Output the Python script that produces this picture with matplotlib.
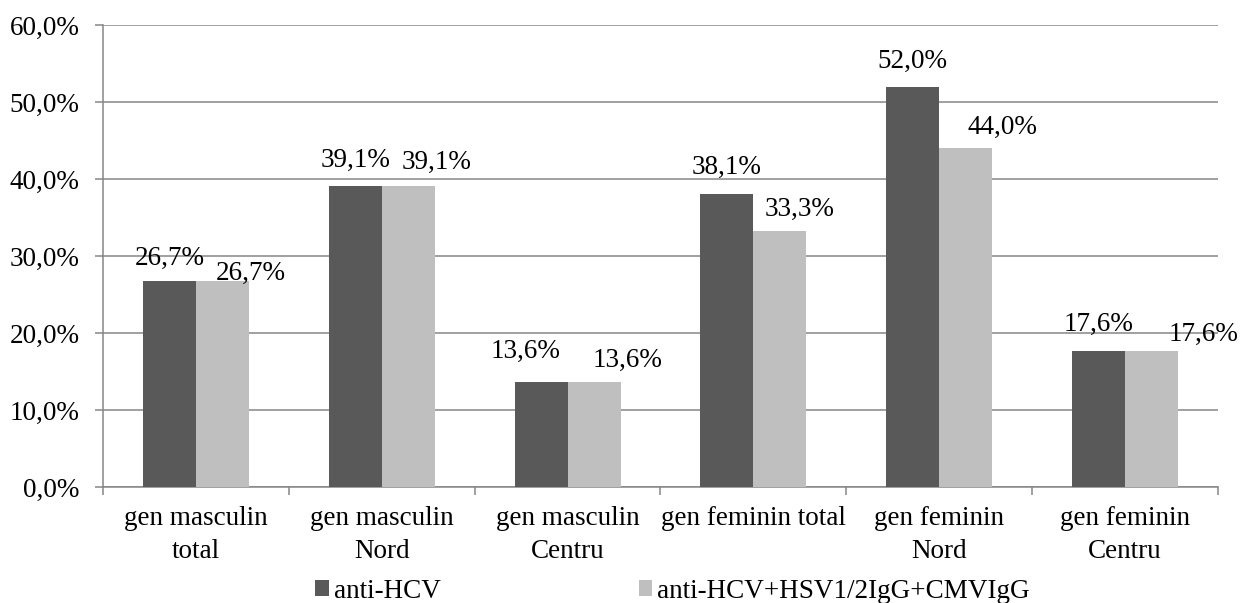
import matplotlib
matplotlib.use("Agg")
import matplotlib.pyplot as plt
import numpy as np

categories = ["gen masculin\ntotal", "gen masculin\nNord", "gen masculin\nCentru",
              "gen feminin total", "gen feminin\nNord", "gen feminin\nCentru"]
series_names = ["anti-HCV", "anti-HCV+HSV1/2IgG+CMVIgG"]
anti_hcv = [26.7, 39.1, 13.6, 38.1, 52.0, 17.6]
anti_hcv_combo = [26.7, 39.1, 13.6, 33.3, 44.0, 17.6]
yticks = [0, 10, 20, 30, 40, 50, 60]

# label placement offsets (pixels) mimicking the original layout
dark_off = [(0, 23), (0, 26), (-16, 31), (0, 26), (0, 25), (0, 27)]
light_off = [(28, 8), (28, 24), (33, 22), (20, 21), (37, 21), (52, 17)]

plt.rcParams['font.family'] = ['Liberation Serif', 'DejaVu Serif']
FS = 19.5

fig = plt.figure(figsize=(12.4, 6.03), dpi=100)
ax = fig.add_axes([103/1240, 1-487/603, (1218-103)/1240, (487-25)/603])

x = np.arange(len(categories))
w = 0.285
colors = ["#595959", "#BFBFBF"]
b1 = ax.bar(x - w/2, anti_hcv, w, color=colors[0], label=series_names[0], zorder=3)
b2 = ax.bar(x + w/2, anti_hcv_combo, w, color=colors[1], label=series_names[1], zorder=3)

def fmt(v):
    return f"{v:.1f}%".replace(".", ",")

for xi, v, (dx, dy) in zip(x - w/2, anti_hcv, dark_off):
    ax.annotate(fmt(v), (xi, v), xytext=(dx, dy), textcoords='offset pixels',
                ha='center', va='center', fontsize=FS, zorder=5)
for xi, v, (dx, dy) in zip(x + w/2, anti_hcv_combo, light_off):
    ax.annotate(fmt(v), (xi, v), xytext=(dx, dy), textcoords='offset pixels',
                ha='center', va='center', fontsize=FS, zorder=5, annotation_clip=False)

ax.set_xlim(-0.5, len(categories) - 0.5)
ax.set_ylim(0, 60)
ax.set_yticks(yticks)
ax.set_yticklabels([f"{t:.1f}%".replace(".", ",") for t in yticks], fontsize=FS)
ax.yaxis.grid(True, color="#868686", linewidth=1.1, zorder=0)
ax.set_axisbelow(True)

ax.set_xticks(x)
ax.set_xticklabels(categories, fontsize=FS, linespacing=1.4)
ax.set_xticks(np.arange(-0.5, len(categories)), minor=True)
ax.tick_params(axis='x', which='major', length=0, pad=14)
ax.tick_params(axis='x', which='minor', length=6, width=1.1, color="#868686", direction='out')
ax.tick_params(axis='y', length=6, width=1.1, color="#868686", direction='out', pad=11)

for s in ['top', 'right']:
    ax.spines[s].set_visible(False)
for s in ['left', 'bottom']:
    ax.spines[s].set_color("#868686")
    ax.spines[s].set_linewidth(1.1)

fig.legend(handles=[b1, b2], labels=series_names, loc='center left',
           bbox_to_anchor=(315/1240, 1-591/603), ncol=2, frameon=False,
           fontsize=FS, handlelength=0.5, handleheight=0.5, handletextpad=0.2,
           columnspacing=7.3, borderpad=0, borderaxespad=0)

fig.savefig("out.png", dpi=100)
